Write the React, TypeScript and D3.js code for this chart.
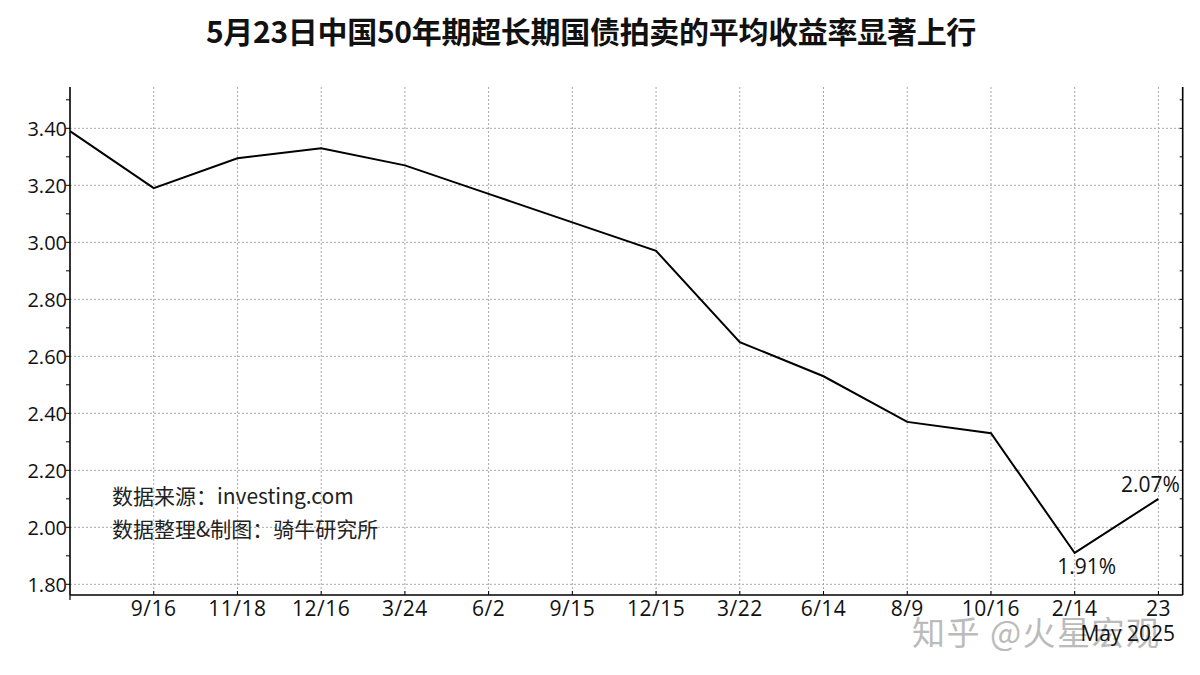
import React from "react";
import * as d3 from "d3";

const categories = ["", "9/16", "11/18", "12/16", "3/24", "6/2", "9/15", "12/15", "3/22", "6/14", "8/9", "10/16", "2/14", "23"];
const yields = [3.39, 3.19, 3.295, 3.33, 3.27, 3.17, 3.07, 2.97, 2.65, 2.53, 2.37, 2.33, 1.91, 2.10];
const yTickLabels = [1.8, 2.0, 2.2, 2.4, 2.6, 2.8, 3.0, 3.2, 3.4];
const yMinorTicks = d3.range(18, 36).map((v) => v / 10);
const title = "5月23日中国50年期超长期国债拍卖的平均收益率显著上行";
const sourceLines = ["数据来源：investing.com", "数据整理&制图：骑牛研究所"];
const pointLabels = [
  { index: 12, text: "1.91%" },
  { index: 13, text: "2.07%" },
];
const yearLabel = "May 2025";
const watermark = "知乎 @火星宏观";

const W = 1200;
const H = 675;
const left = 70;
const right = 1182.7;
const top = 87;
const bottom = 595;

export default function App() {
  const x = d3.scaleLinear().domain([0, 13.29]).range([left, right]);
  const y = d3.scaleLinear().domain([1.7625, 3.545]).range([bottom, top]);
  const line = d3
    .line<number>()
    .x((_, i) => x(i))
    .y((d) => y(d));

  const tickFont = "'Open Sans', 'DejaVu Sans', sans-serif";
  const cjk = "'Noto Sans CJK SC', sans-serif";

  return (
    <svg
      width={W}
      height={H}
      viewBox={`0 0 ${W} ${H}`}
      style={{ position: "absolute", left: 0, top: 0, background: "#fff" }}
    >
      <rect x={0} y={0} width={W} height={H} fill="#fff" />
      <text
        x={591}
        y={43}
        textAnchor="middle"
        fontFamily={cjk}
        fontWeight="bold"
        fontSize={30}
        letterSpacing={-0.3}
        fill="#111"
      >
        {title}
      </text>

      {/* grid */}
      {yTickLabels.map((v) => (
        <line
          key={"gy" + v}
          x1={left}
          x2={right}
          y1={y(v)}
          y2={y(v)}
          stroke="#a8a8a8"
          strokeWidth={1}
          strokeDasharray="2,2"
        />
      ))}
      {categories.map((c, i) =>
        i === 0 ? null : (
          <line
            key={"gx" + i}
            x1={x(i)}
            x2={x(i)}
            y1={top}
            y2={bottom}
            stroke="#a8a8a8"
            strokeWidth={1}
            strokeDasharray="2,2"
          />
        )
      )}

      {/* axes */}
      <line x1={left} x2={left} y1={top} y2={bottom} stroke="#000" strokeWidth={1.6} />
      <line x1={right} x2={right} y1={top} y2={bottom} stroke="#000" strokeWidth={1.6} />
      <line x1={left} x2={right} y1={bottom} y2={bottom} stroke="#000" strokeWidth={1.6} />
      <line x1={left} x2={left} y1={bottom} y2={bottom + 5} stroke="#000" strokeWidth={1.2} />

      {yMinorTicks.map((v) => (
        <g key={"t" + v}>
          <line x1={left - 4} x2={left} y1={y(v)} y2={y(v)} stroke="#000" strokeWidth={1} />
          <line x1={right - 3} x2={right} y1={y(v)} y2={y(v)} stroke="#000" strokeWidth={1} />
        </g>
      ))}
      {categories.map((c, i) =>
        i === 0 ? null : (
          <line
            key={"xt" + i}
            x1={x(i)}
            x2={x(i)}
            y1={bottom - 4}
            y2={bottom}
            stroke="#000"
            strokeWidth={1}
          />
        )
      )}

      {yTickLabels.map((v) => (
        <text
          key={"yl" + v}
          x={left - 3}
          y={y(v)}
          dy="0.36em"
          textAnchor="end"
          fontFamily={tickFont}
          fontSize={20}
          fill="#111"
        >
          {d3.format(".2f")(v)}
        </text>
      ))}
      {categories.map((c, i) =>
        c ? (
          <text
            key={"xl" + i}
            x={x(i)}
            y={616}
            textAnchor="middle"
            fontFamily={tickFont}
            fontSize={21}
            letterSpacing={0.5}
            fill="#111"
          >
            {c}
          </text>
        ) : null
      )}

      {/* data line */}
      <path d={line(yields) || ""} fill="none" stroke="#000" strokeWidth={2} strokeLinejoin="miter" />

      {pointLabels.map((p) => {
        const px = x(p.index);
        const py = y(yields[p.index]);
        const above = p.index === 13;
        return (
          <text
            key={p.text}
            x={above ? px - 8 : px + 12}
            y={above ? py - 7 : py + 21}
            textAnchor="middle"
            fontFamily={tickFont}
            fontSize={21}
            fill="#111"
          >
            {p.text}
          </text>
        );
      })}

      {sourceLines.map((s, i) => (
        <text
          key={s}
          x={112}
          y={504 + i * 33}
          fontFamily={cjk}
          fontSize={21}
          fill="#222"
        >
          {s}
        </text>
      ))}

      {/* watermark */}
      <text
        x={912}
        y={645}
        fontFamily={cjk}
        fontSize={33}
        letterSpacing={1.5}
        fill="#b4b4b4"
        stroke="#ffffff"
        strokeWidth={1.5}
        paintOrder="stroke"
        opacity={0.9}
      >
        {watermark}
      </text>
      <text
        x={1175}
        y={641}
        textAnchor="end"
        fontFamily={tickFont}
        fontSize={21}
        fill="#111"
      >
        {yearLabel}
      </text>
    </svg>
  );
}
